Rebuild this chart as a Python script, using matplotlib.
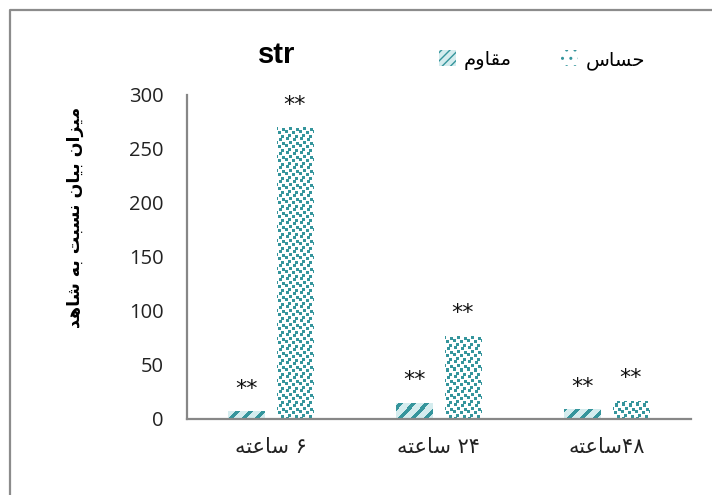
import numpy as np
import matplotlib
matplotlib.use("Agg")
import matplotlib.pyplot as plt
from matplotlib.patches import Patch
from matplotlib.lines import Line2D


def rtl(words, sep=" "):
    """Lay out pre-shaped Arabic-script words in visual (left-to-right) order."""
    return sep.join(w if w.isdigit() else w[::-1] for w in reversed(words))


# Pre-shaped words (Arabic presentation forms, logical order)
SAATE = "\uFEB3\uFE8E\uFECB\uFE98\uFEEA"          # ساعته
HASSAS = "\uFEA3\uFEB4\uFE8E\uFEB1"               # حساس
MOGHAVEM = "\uFEE3\uFED8\uFE8E\uFEED\uFEE1"       # مقاوم
YLABEL_WORDS = ["\uFEE3\uFEF4\uFEB0\uFE8D\uFEE5",  # میزان
                "\uFE91\uFEF4\uFE8E\uFEE5",        # بیان
                "\uFEE7\uFEB4\uFE92\uFE96",        # نسبت
                "\uFE91\uFEEA",                    # به
                "\uFEB7\uFE8E\uFEEB\uFEAA"]        # شاهد

# Data
categories = [rtl(["\u06F6", SAATE]),
              rtl(["\u06F2\u06F4", SAATE]),
              rtl(["\u06F4\u06F8", SAATE], sep="")]
resistant = [7, 15, 9]        # مقاوم
sensitive = [270, 77, 17]     # حساس
y_ticks = [0, 50, 100, 150, 200, 250, 300]
title = "str"
signif = ["**", "**", "**"]

TEAL = "#35959c"
LIGHT = "#d4ecee"
ARABIC_FONT = ["DejaVu Sans"]

W, H = 712, 495
fig = plt.figure(figsize=(W / 100, H / 100), dpi=100)
fig.patch.set_facecolor("white")

ax_l, ax_b, ax_w, ax_h = 187, 76, 504, 324   # pixels
ax = fig.add_axes([ax_l / W, ax_b / H, ax_w / W, ax_h / H])

x = np.arange(len(categories))
bw = 0.22
off = 0.143
xlim = (-0.5, len(categories) - 0.5)
ylim = (0, 300)

bars_r = ax.bar(x - off, resistant, bw, facecolor="none", edgecolor="none")
bars_s = ax.bar(x + off, sensitive, bw, facecolor="none", edgecolor="none")

# Fill textures on the axes pixel grid
rows, cols = np.mgrid[0:ax_h, 0:ax_w]
stripe = ((cols + rows) % 13) < 5
stripe_img = np.empty((ax_h, ax_w, 3))
stripe_img[:] = matplotlib.colors.to_rgb(LIGHT)
stripe_img[stripe] = matplotlib.colors.to_rgb(TEAL)

T = 14
tile = np.zeros((T, T), dtype=bool)
for c0, r0 in [(1, 0), (8, 1), (4, 4), (11, 5), (0, 7), (7, 8), (3, 11), (10, 12)]:
    for dr in range(3):
        for dc in range(3):
            tile[(r0 + dr) % T, (c0 + dc) % T] = True
dots = tile[rows % T, cols % T]
dot_img = np.ones((ax_h, ax_w, 3))
dot_img[dots] = matplotlib.colors.to_rgb(TEAL)

for bars, img in [(bars_r, stripe_img), (bars_s, dot_img)]:
    for b in bars:
        im = ax.imshow(img, extent=(xlim[0], xlim[1], ylim[0], ylim[1]),
                       origin="upper", aspect="auto", interpolation="nearest",
                       zorder=2)
        im.set_clip_path(b)

ax.set_xlim(*xlim)
ax.set_ylim(*ylim)

# Significance marks above each bar
for bars, vals in [(bars_r, resistant), (bars_s, sensitive)]:
    for b, v, s in zip(bars, vals, signif):
        ax.annotate(s, (b.get_x() + b.get_width() / 2, v), xytext=(0, 12),
                    textcoords="offset points", ha="center", va="baseline",
                    fontsize=16, family="DejaVu Sans", color="#111111")

# Axes styling
for side in ["top", "right"]:
    ax.spines[side].set_visible(False)
for side in ["left", "bottom"]:
    ax.spines[side].set_color("#878787")
    ax.spines[side].set_linewidth(1.6)
ax.set_yticks(y_ticks)
ax.set_yticklabels([str(t) for t in y_ticks], family="Open Sans",
                   fontsize=14.5, color="#222222")
ax.set_xticks(x)
ax.set_xticklabels(categories, family=ARABIC_FONT, fontsize=15,
                   color="#222222")
ax.tick_params(axis="y", length=0, pad=17)
ax.tick_params(axis="x", length=0, pad=13)
ax.set_facecolor("white")

# Title and y label
fig.text(277 / W, 1 - 55 / H, title, ha="center", va="center",
         fontsize=21, fontweight="bold", family="Liberation Sans")
fig.text(75 / W, 1 - 217 / H, rtl(YLABEL_WORDS), rotation=90,
         ha="center", va="center", fontsize=12.5, fontweight="bold",
         family=ARABIC_FONT)

# Legend
handles = [Patch(facecolor=LIGHT, edgecolor=TEAL, hatch="////", linewidth=0),
           Patch(facecolor="white", edgecolor=TEAL, hatch="..", linewidth=0)]
labels = [rtl([MOGHAVEM]), rtl([HASSAS])]
fig.legend(handles, labels, ncol=2, loc="center",
           bbox_to_anchor=(542 / W, 1 - 60 / H), frameon=False,
           handlelength=0.9, handleheight=0.9, handletextpad=0.4,
           columnspacing=2.5, prop={"family": ARABIC_FONT, "size": 14})

# Outer frame (left and top edges)
fx = 10 / W
fy = 1 - 10 / H
fig.add_artist(Line2D([fx, fx, 1], [0, fy, fy], transform=fig.transFigure,
                      color="#8c8c8c", linewidth=1.6))

fig.savefig("out.png", dpi=100, facecolor="white")
